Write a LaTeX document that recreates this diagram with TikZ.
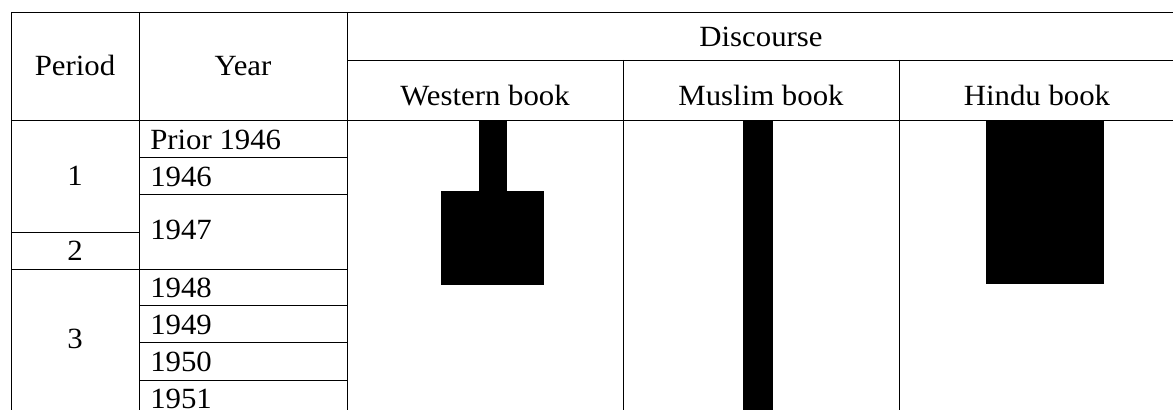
\documentclass[tikz,border=0pt]{standalone}
\usepackage{fontspec}
\setmainfont[FakeStretch=1.05]{Liberation Serif}
\usepackage{tikz}
\usetikzlibrary{positioning, calc, backgrounds}

\begin{document}
\begin{tikzpicture}[x=0.75pt, y=-0.75pt, font=\fontsize{22}{26}\selectfont,
    rule/.style={line width=0.7pt},
    bar/.style={fill=black}]

    \useasboundingbox (0,0) rectangle (1173,410);

    \begin{scope}
    \clip (0,0) rectangle (1173,410);

    % frame and header
    \draw[rule] (11,12) -- (1180,12);
    \draw[rule] (347,60) -- (1180,60);
    \draw[rule] (11,120) -- (1180,120);
    \foreach \x in {11, 139, 347} {
        \draw[rule] (\x,12) -- (\x,420);
    };
    \foreach \x in {623, 899} {
        \draw[rule] (\x,60) -- (\x,420);
    };

    % year rows
    \foreach \y in {157.7, 194.7, 305.3, 342.7, 380} {
        \draw[rule] (139,\y) -- (347,\y);
    };
    \draw[rule] (11,232.3) -- (139,232.3);
    \draw[rule] (11,269.3) -- (347,269.3);

    \node[anchor=base] (period) at (75,75.5) {Period};
    \node[anchor=base] (year) at (243,75.5) {Year};
    \node[anchor=base] (discourse) at (761,46.5) {Discourse};
    \node[anchor=base] (western) at (485,105) {Western book};
    \node[anchor=base] (muslim) at (761,105) {Muslim book};
    \node[anchor=base] (hindu) at (1037,105) {Hindu book};

    \node[anchor=base] (per1) at (75,185) {1};
    \node[anchor=base] (per2) at (75,260.5) {2};
    \node[anchor=base] (per3) at (75,348) {3};

    \node[anchor=base west, inner xsep=0pt] (yprior) at (150,149.5) {Prior 1946};
    \foreach \yr/\y in {1946/186.5, 1947/239, 1948/297, 1949/334, 1950/371.5, 1951/408} {
        \node[anchor=base west, inner xsep=0pt] (y\yr) at (150,\y) {\yr};
    };

    % bars
    \fill[bar] (478.6,120) rectangle (506.5,190.7);
    \fill[bar] (441.2,190.7) rectangle (543.9,284.7);
    \fill[bar] (742.7,120) rectangle (773,420);
    \fill[bar] (985.5,120) rectangle (1104.3,284.3);
    \end{scope}
\end{tikzpicture}
\end{document}
